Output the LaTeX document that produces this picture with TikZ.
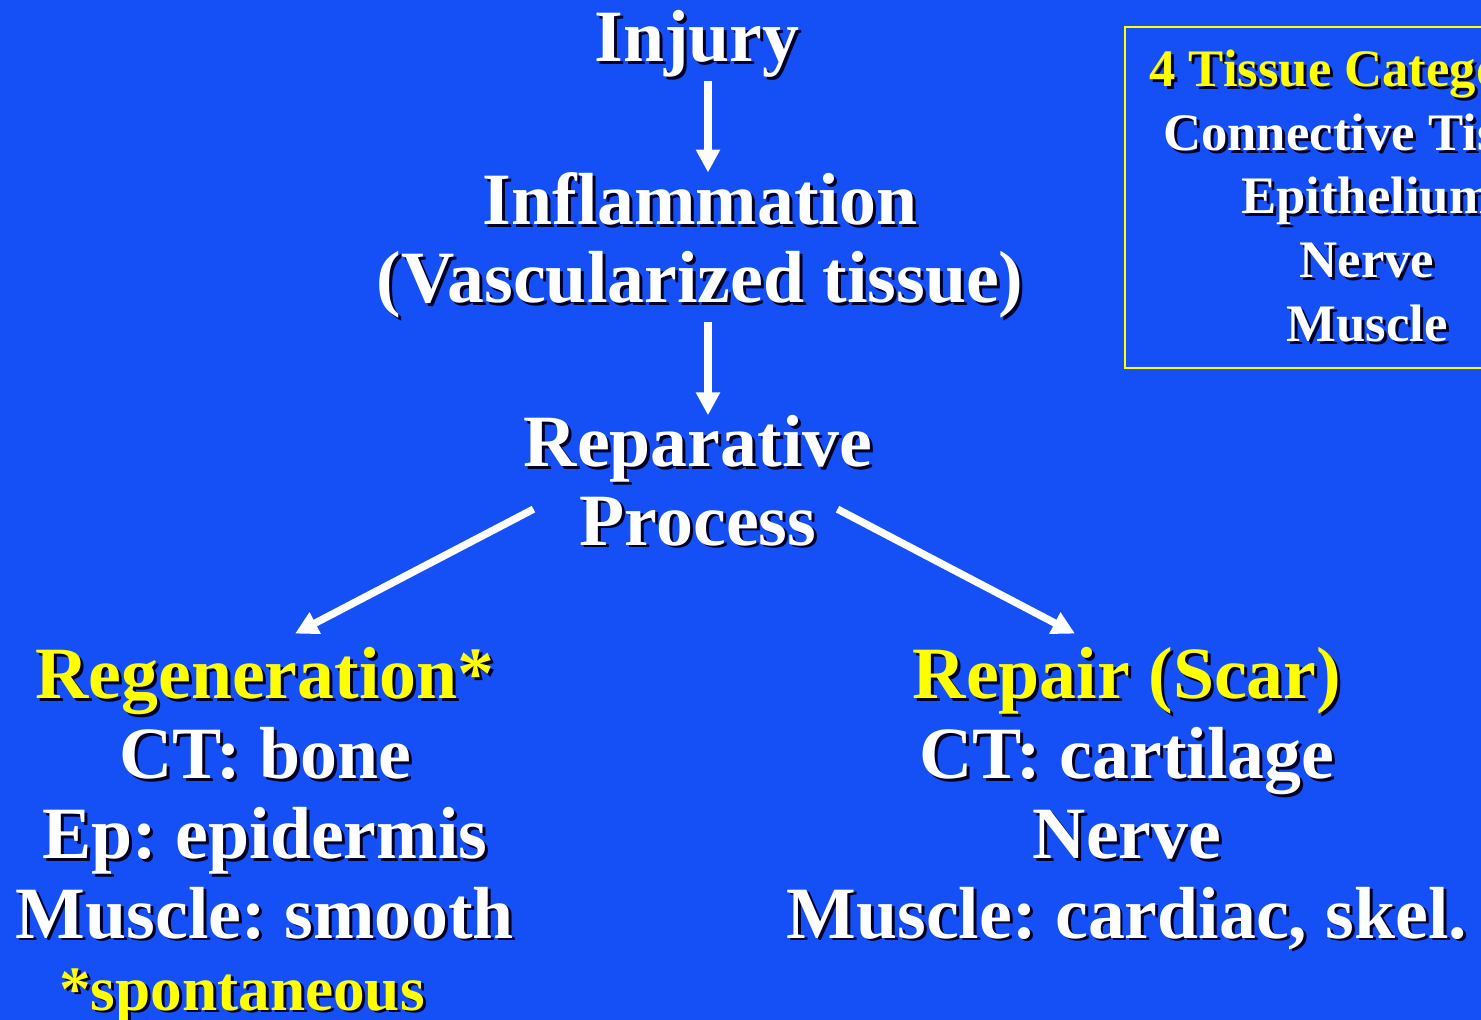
\documentclass[tikz,border=0pt]{standalone}
\usepackage{fontspec}
\setmainfont{Liberation Serif}
\usepackage{tikz}
\usetikzlibrary{arrows.meta, positioning}

\definecolor{slideblue}{RGB}{21,80,246}
\definecolor{slideyellow}{RGB}{255,255,0}
\definecolor{shadowc}{RGB}{0,0,40}
\newcommand{\shd}[1]{\leavevmode\rlap{\kern1.7pt\raisebox{-1.7pt}{\color{shadowc}#1}}#1}
\frenchspacing

\begin{document}
\begin{tikzpicture}[
        x=0.02cm, y=-0.02cm,
        big/.style={text=white, align=center, inner sep=0pt, anchor=base, font=\fontsize{42pt}{44.5pt}\selectfont\bfseries},
        list/.style={big, font=\fontsize{42pt}{45.5pt}\selectfont\bfseries},
        hl/.style={text=slideyellow},
        catbox/.style={rectangle, draw=slideyellow, line width=1.2pt, align=center, text=white, inner sep=0pt, minimum width=9.68cm, minimum height=6.82cm, font=\fontsize{30pt}{36.4pt}\selectfont\bfseries},
        arrow/.style={-{Triangle[width=13pt, length=13pt]}, line width=4.2pt, draw=white}
    ]

    % Slide
    \clip (0,0) rectangle (1481,1020);
    \fill [slideblue] (0,0) rectangle (1481,1020);

    % Nodes (base = last line)
    \node (injury) [big] at (697,62) {\shd{Injury}};

    \node (inflam) [big] at (700,303) {\shd{Inflammation}\\\shd{(Vascularized tissue)}};

    \node (reparative) [big] at (698,545) {\shd{Reparative}\\\shd{Process}};

    \node (regen) [list] at (265,938) {{\color{slideyellow}\shd{Regeneration*}}\\\shd{CT: bone}\\\shd{Ep: epidermis}\\\shd{Muscle: smooth}};

    \node (repair) [list] at (1127,938) {{\color{slideyellow}\shd{Repair (Scar)}}\\\shd{CT: cartilage}\\\shd{Nerve}\\\shd{Muscle: cardiac, skel.}};

    \node (spont) [big, hl, font=\fontsize{36pt}{40pt}\selectfont\bfseries] at (242,1010) {\shd{*spontaneous}};

    \node (categories) [catbox] at (1367,197.5) {{\color{slideyellow}\shd{4 Tissue Categories}}\\\shd{Connective Tissue}\\\shd{Epithelium}\\\shd{Nerve}\\\shd{Muscle}};

    % Arrows
    \draw [arrow] ([shift={(11,0)}]injury.south) -- ([shift={(8,0)}]inflam.north);
    \draw [arrow] ([shift={(8,0)}]inflam.south) -- ([shift={(10,0)}]reparative.north);
    \draw [arrow] ([shift={(10,27)}]reparative.west) -- ([shift={(30,-13)}]regen.north);
    \draw [arrow] ([shift={(-35,27)}]reparative.east) -- ([shift={(-52,-13)}]repair.north);

\end{tikzpicture}
\end{document}
